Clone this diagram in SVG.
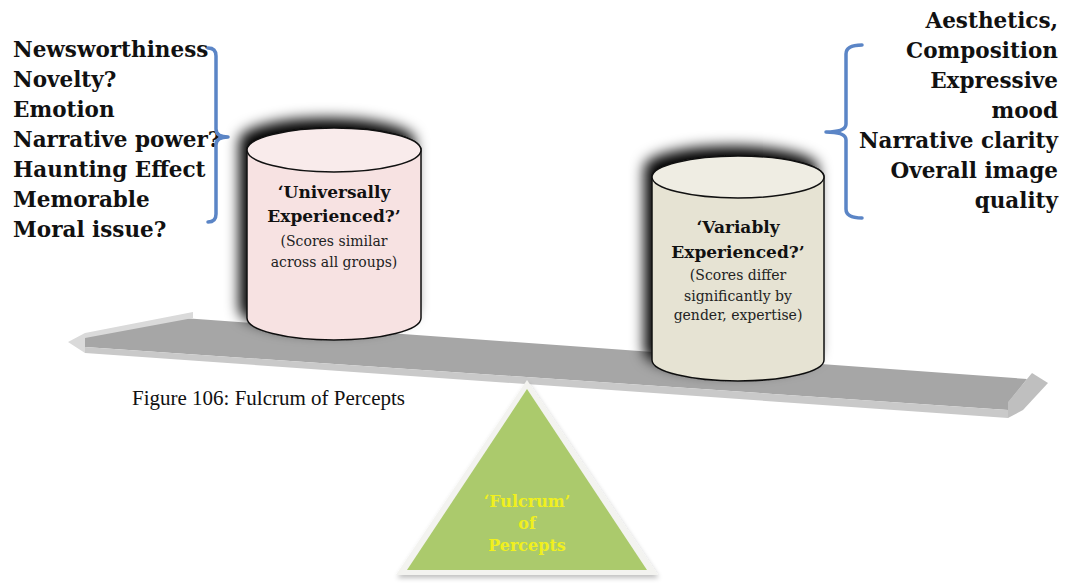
<svg xmlns="http://www.w3.org/2000/svg" width="1069" height="584" viewBox="0 0 1069 584">
<defs>
<style>
.lst{font-family:"DejaVu Serif","Liberation Serif",serif;font-weight:bold;font-size:21.5px;fill:#111}
.ttl{font-family:"DejaVu Serif","Liberation Serif",serif;font-weight:bold;font-size:17px;fill:#111;text-anchor:middle}
.sub{font-family:"DejaVu Serif","Liberation Serif",serif;font-size:14px;fill:#222;text-anchor:middle}
.ful{font-family:"DejaVu Serif","Liberation Serif",serif;font-weight:bold;font-size:16px;fill:#f0f01e;text-anchor:middle}
.cap{font-family:"Liberation Serif","Times New Roman",serif;font-size:21px;fill:#111}
.brk{fill:none;stroke:#5b85c6;stroke-width:3.5;stroke-linejoin:round;stroke-linecap:round}
.cyl{stroke:#111;stroke-width:1.5}
</style>
<filter id="sh" x="-30%" y="-30%" width="160%" height="160%">
<feGaussianBlur in="SourceAlpha" stdDeviation="7"/>
<feOffset dx="-7" dy="-9" result="b"/>
<feComponentTransfer><feFuncA type="linear" slope="1"/></feComponentTransfer>
<feMerge><feMergeNode/><feMergeNode in="SourceGraphic"/></feMerge>
</filter>
<filter id="tsh" x="-10%" y="-10%" width="120%" height="120%">
<feGaussianBlur in="SourceAlpha" stdDeviation="2.5"/>
<feOffset dx="1" dy="3"/>
<feComponentTransfer><feFuncA type="linear" slope="0.25"/></feComponentTransfer>
<feMerge><feMergeNode/><feMergeNode in="SourceGraphic"/></feMerge>
</filter>
</defs>
<rect width="1069" height="584" fill="#ffffff"/>

<g id="beam">
<polygon points="85,336 183,318 1027,379 1008,403 1008,410 85,347" fill="#a6a6a6"/>
<polygon points="85,347 1008,410 1008,418 85,353" fill="#c9c9c9"/>
<polygon points="68,342 85,333 193,312 193,318 85,338 85,353" fill="#dadada"/>
<polygon points="1032,373 1048,383 1023,410 1008,418 1008,402" fill="#bfbfbf"/>
</g>

<g id="left-list">
<text class="lst" x="13" y="57">Newsworthiness</text>
<text class="lst" x="13" y="87">Novelty?</text>
<text class="lst" x="13" y="117">Emotion</text>
<text class="lst" x="13" y="147">Narrative power?</text>
<text class="lst" x="13" y="177">Haunting Effect</text>
<text class="lst" x="13" y="207">Memorable</text>
<text class="lst" x="13" y="237">Moral issue?</text>
</g>

<g id="right-list">
<text class="lst" x="1058" y="28" text-anchor="end">Aesthetics,</text>
<text class="lst" x="1058" y="58" text-anchor="end">Composition</text>
<text class="lst" x="1058" y="88" text-anchor="end">Expressive</text>
<text class="lst" x="1058" y="118" text-anchor="end">mood</text>
<text class="lst" x="1058" y="148" text-anchor="end">Narrative clarity</text>
<text class="lst" x="1058" y="178" text-anchor="end">Overall image</text>
<text class="lst" x="1058" y="208" text-anchor="end">quality</text>
</g>

<g id="brackets">
<path class="brk" d="M208,48 Q216,48 216,56 L216,129 Q216,137 228,137 Q216,137 216,145 L216,214 Q216,222 208,222"/>
<path class="brk" d="M862,45 Q846,45 846,54 L846,124 Q846,132 826,132 Q846,132 846,140 L846,209 Q846,218 862,218"/>
</g>

<g id="cyl-universal">
<g filter="url(#sh)">
<path class="cyl" d="M247,150 L247,318 A87,22 0 0 0 421,318 L421,150 A87,22 0 0 0 247,150 Z" fill="#f7e2e2"/>
</g>
<ellipse class="cyl" cx="334" cy="150" rx="87" ry="22" fill="#f9ebeb"/>
<text class="ttl" x="334" y="198">‘Universally</text>
<text class="ttl" x="334" y="222">Experienced?’</text>
<text class="sub" x="334" y="246">(Scores similar</text>
<text class="sub" x="334" y="267">across all groups)</text>
</g>

<g id="cyl-variable">
<g filter="url(#sh)">
<path class="cyl" d="M652,177 L652,360 A86,21 0 0 0 824,360 L824,177 A86,21 0 0 0 652,177 Z" fill="#e6e3d3"/>
</g>
<ellipse class="cyl" cx="738" cy="177" rx="86" ry="21" fill="#efede3"/>
<text class="ttl" x="738" y="233">‘Variably</text>
<text class="ttl" x="738" y="258">Experienced?’</text>
<text class="sub" x="738" y="280">(Scores differ</text>
<text class="sub" x="738" y="301">significantly by</text>
<text class="sub" x="738" y="320">gender, expertise)</text>
</g>

<g id="caption">
<text class="cap" x="132" y="405">Figure 106: Fulcrum of Percepts</text>
</g>

<g id="fulcrum">
<polygon points="527,380 658,575 396,575" fill="#f3f3f0" filter="url(#tsh)"/>
<polygon points="527,389 647,570 407,570" fill="#abca6c"/>
<text class="ful" x="527" y="507">‘Fulcrum’</text>
<text class="ful" x="527" y="529">of</text>
<text class="ful" x="527" y="551">Percepts</text>
</g>
</svg>
